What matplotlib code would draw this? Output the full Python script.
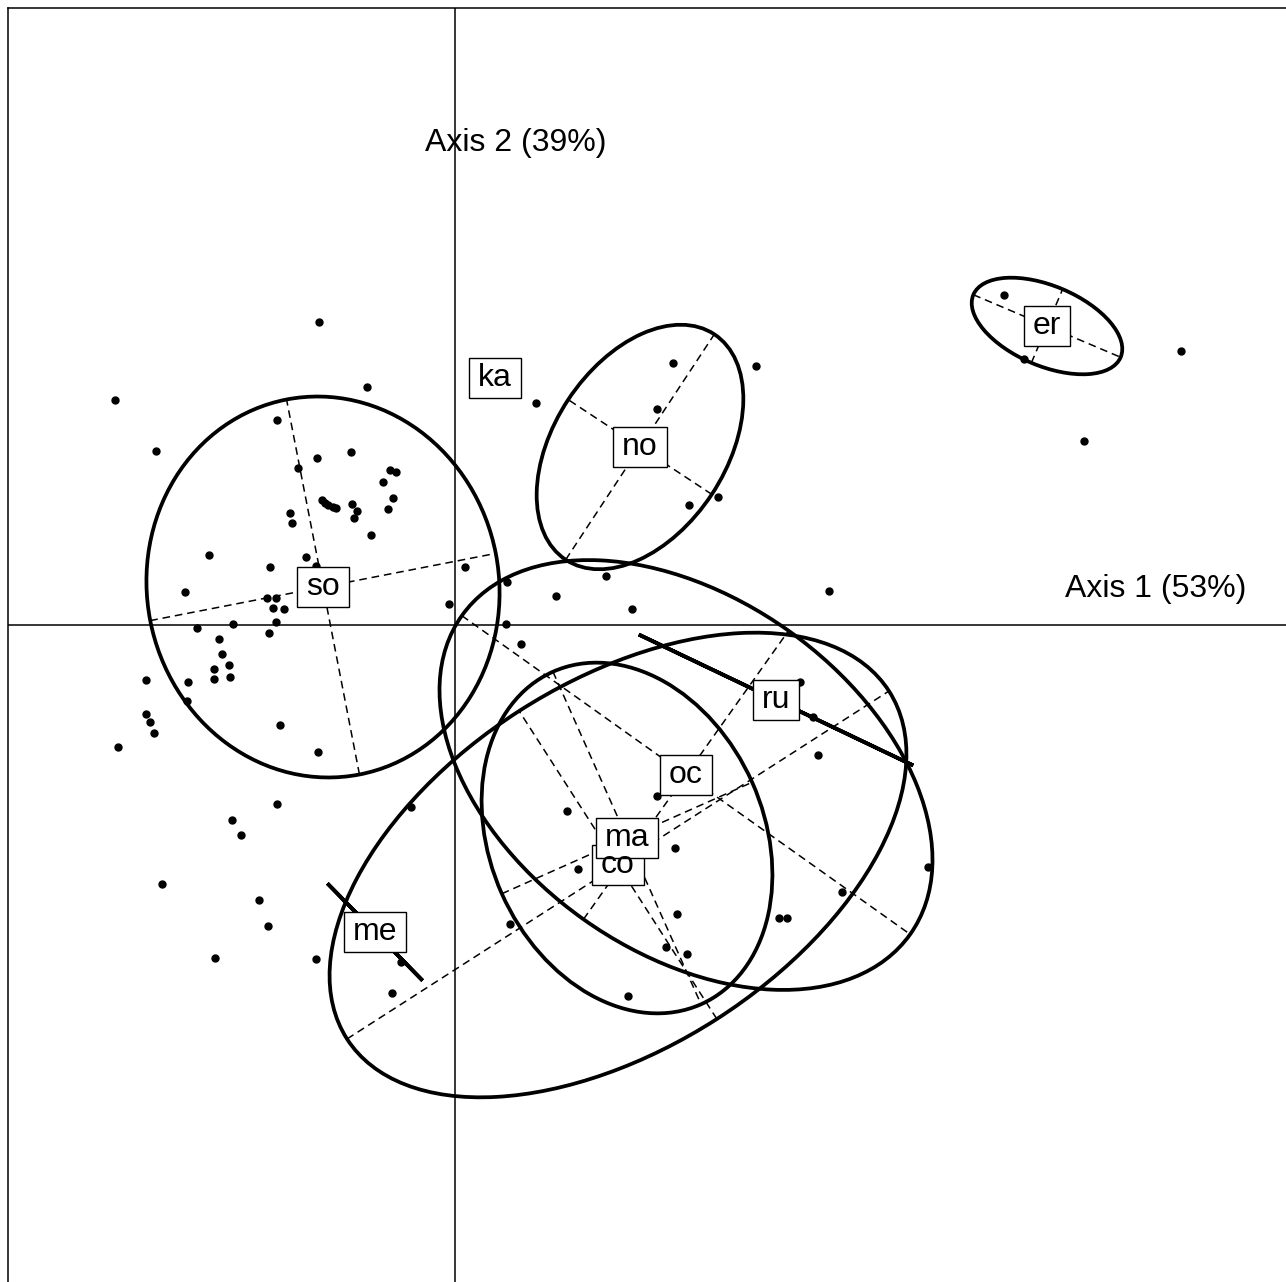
import matplotlib
matplotlib.use('agg')
import matplotlib.pyplot as plt
import numpy as np
from matplotlib.patches import Ellipse, Rectangle
from matplotlib.transforms import IdentityTransform

plt.rcParams['font.family'] = ['Liberation Sans', 'DejaVu Sans']

# class centroids and ellipse shapes (semi axes, angle of first axis in degrees)
classes = ['co', 'er', 'ka', 'ma', 'me', 'no', 'oc', 'ru', 'so']
cx = [1.63, 5.92, 0.40, 1.72, -0.80, 1.85, 2.31, 3.21, -1.32]
cy = [-2.40, 2.99, 2.47, -2.13, -3.07, 1.78, -1.50, -0.75, 0.38]
semi_a = [3.22, 0.80, 0.0, 1.82, 0.68, 1.35, 2.75, 1.52, 1.76]
semi_b = [1.83, 0.40, 0.0, 1.37, 0.0, 0.86, 1.77, 0.0, 1.91]
angle = [32.7, -23.0, 0.0, -66.0, -45.6, 56.6, -35.4, -25.5, 11.0]

# row scores
x_pts = [-1.36, -0.88, -3.40, -2.99, -1.78, -1.38, -1.04, -1.57, -0.65, -0.59,
         -0.72, -0.62, -1.33, -1.30, -1.27, -1.22, -1.19, -1.03, -0.98, -1.01,
         -0.67, -1.65, -1.63, -0.84, -2.46, -1.49, -1.85, -1.39, 0.10, -2.70,
         -1.88, -1.79, -1.82, -1.71, -1.79, -1.86, -0.06, -2.58, -2.22, -2.36,
         -2.33, -2.41, -2.26, -2.41, -2.25, -3.09, -2.67, -2.68, -3.09, -3.05,
         -3.01, -1.75, -3.37, -1.37, 0.52, 0.51, -1.78, -2.23, -2.14, -0.44,
         -2.93, -1.96, -1.87, -2.40, -1.39, -0.54, -0.63, 0.55, 0.81, 2.18,
         3.01, 2.02, 2.34, 2.63, 1.51, 1.01, 1.77, 3.74, 0.66, 1.12,
         2.02, 2.20, 1.23, 2.22, 2.11, 2.32, 3.24, 3.32, 1.73, 3.45,
         3.58, 3.63, 3.87, 4.73, 5.49, 5.69, 7.26, 6.29]
y_pts = [3.03, 2.38, 2.25, 1.74, 2.05, 1.67, 1.73, 1.57, 1.55, 1.53,
         1.43, 1.27, 1.25, 1.22, 1.20, 1.18, 1.17, 1.21, 1.14, 1.07,
         1.16, 1.12, 1.02, 0.90, 0.70, 0.68, 0.58, 0.59, 0.58, 0.33,
         0.27, 0.27, 0.17, 0.16, 0.03, -0.08, 0.21, -0.03, 0.01, -0.14,
         -0.29, -0.44, -0.40, -0.54, -0.52, -0.55, -0.57, -0.76, -0.89, -0.97,
         -1.08, -1.00, -1.22, -1.27, 0.43, 0.01, -1.79, -1.95, -2.10, -1.82,
         -2.59, -2.75, -3.01, -3.33, -3.34, -3.37, -3.68, -2.99, 2.22, 2.62,
         2.59, 2.16, 1.20, 1.28, 0.49, 0.29, 0.16, 0.34, -0.19, -1.86,
         -1.71, -2.23, -2.44, -2.89, -3.22, -3.29, -2.93, -2.93, -3.71, -0.57,
         -0.92, -1.30, -2.67, -2.42, 3.30, 2.66, 2.74, 1.84]

axis_labels = ['Axis 1 (53%)', 'Axis 2 (39%)']

fig = plt.figure(figsize=(12.86, 12.82), dpi=100)
# frame runs off the right and bottom edges of the picture
ax = fig.add_axes([8/1286, -2/1282, 1280/1286, 1276/1282])
ax.set_xlim(-4.47, 8.33)
ax.set_ylim(-6.59, 6.17)
ax.set_aspect('equal', adjustable='box')
ax.set_xticks([])
ax.set_yticks([])
for sp in ax.spines.values():
    sp.set_linewidth(1.1)

ax.axhline(0, color='black', lw=1.1, zorder=1)
ax.axvline(0, color='black', lw=1.1, zorder=1)

ax.text(6.10, 0.28, axis_labels[0], fontsize=23, ha='left', va='baseline', zorder=2)
ax.text(-0.30, 4.74, axis_labels[1], fontsize=23, ha='left', va='baseline', zorder=2)

ax.plot(x_pts, y_pts, 'o', color='black', markersize=5, zorder=2)

for i in range(len(classes)):
    a, b = semi_a[i], semi_b[i]
    if a <= 0:
        continue
    t = np.deg2rad(angle[i])
    u = np.array([np.cos(t), np.sin(t)])
    n = np.array([-np.sin(t), np.cos(t)])
    c = np.array([cx[i], cy[i]])
    for vec, r in ((u, a), (n, b)):
        if r > 0:
            p0, p1 = c - r*vec, c + r*vec
            ax.plot([p0[0], p1[0]], [p0[1], p1[1]], color='black', lw=1.1,
                    linestyle=(0, (5, 3.2)), zorder=3)
    ax.add_patch(Ellipse(c, 2*a, 2*b, angle=angle[i], fill=False,
                         ec='black', lw=2.7, zorder=3))

texts = []
for i, lab in enumerate(classes):
    texts.append(ax.text(cx[i], cy[i], lab, fontsize=23, ha='center',
                         va='center', zorder=6))

fig.canvas.draw()
renderer = fig.canvas.get_renderer()
for i, t in enumerate(texts):
    bb = t.get_window_extent(renderer)
    w = bb.width + 18
    h = 40
    px, py = ax.transData.transform((cx[i], cy[i]))
    ax.add_patch(Rectangle((px - w/2, py - h/2), w, h, transform=IdentityTransform(),
                           fc='white', ec='black', lw=1.0, zorder=5))

plt.savefig('out.png', dpi=100)
plt.close()
